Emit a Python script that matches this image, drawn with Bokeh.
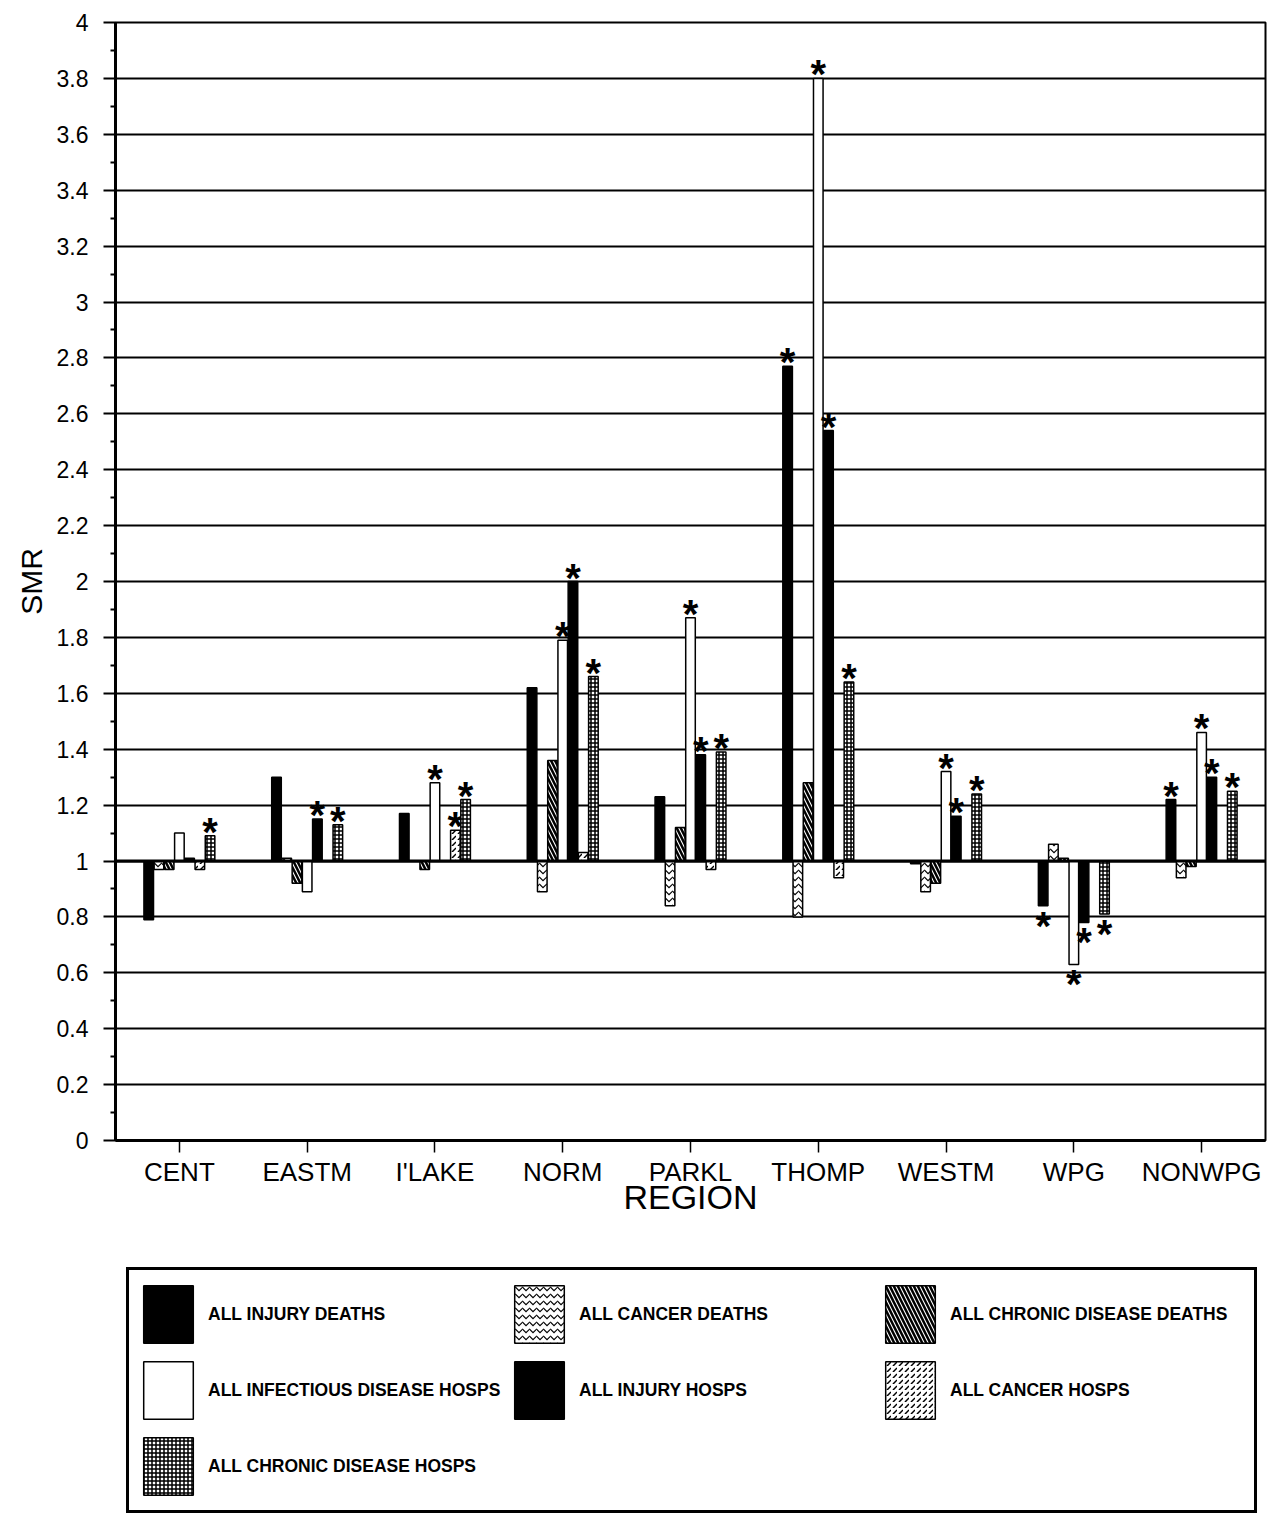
from bokeh.plotting import figure
from bokeh.models import (ColumnDataSource, FactorRange, FixedTicker, Legend, LegendItem,
                          Span, NumeralTickFormatter, Range1d)
from bokeh.layouts import column
from bokeh.transform import dodge
from bokeh.core.properties import value
from bokeh.embed import file_html
from bokeh.resources import INLINE

regions = ["CENT", "EASTM", "I'LAKE", "NORM", "PARKL", "THOMP", "WESTM", "WPG", "NONWPG"]

series_names = ["ALL INJURY DEATHS", "ALL CANCER DEATHS", "ALL CHRONIC DISEASE DEATHS",
                "ALL INFECTIOUS DISEASE HOSPS", "ALL INJURY HOSPS", "ALL CANCER HOSPS",
                "ALL CHRONIC DISEASE HOSPS"]

injury_deaths    = [0.79, 1.30, 1.17, 1.62, 1.23, 2.77, 0.99, 0.84, 1.22]
cancer_deaths    = [0.97, 1.01, 1.00, 0.89, 0.84, 0.80, 0.89, 1.06, 0.94]
chronic_deaths   = [0.97, 0.92, 0.97, 1.36, 1.12, 1.28, 0.92, 1.01, 0.98]
infectious_hosps = [1.10, 0.89, 1.28, 1.79, 1.87, 3.80, 1.32, 0.63, 1.46]
injury_hosps     = [1.01, 1.15, 1.00, 2.00, 1.38, 2.54, 1.16, 0.78, 1.30]
cancer_hosps     = [0.97, 1.00, 1.11, 1.03, 0.97, 0.94, 1.00, 1.00, 1.00]
chronic_hosps    = [1.09, 1.13, 1.22, 1.66, 1.39, 1.64, 1.24, 0.81, 1.25]

# significance flags (asterisks)
sig_injury_deaths    = [0, 0, 0, 0, 0, 1, 0, 1, 1]
sig_cancer_deaths    = [0, 0, 0, 0, 0, 0, 0, 0, 0]
sig_chronic_deaths   = [0, 0, 0, 0, 0, 0, 0, 0, 0]
sig_infectious_hosps = [0, 0, 1, 1, 1, 1, 1, 1, 1]
sig_injury_hosps     = [0, 1, 0, 1, 1, 1, 1, 1, 1]
sig_cancer_hosps     = [0, 0, 1, 0, 0, 0, 0, 0, 0]
sig_chronic_hosps    = [1, 1, 1, 1, 1, 1, 1, 1, 1]

y_ticks = [0, 0.2, 0.4, 0.6, 0.8, 1, 1.2, 1.4, 1.6, 1.8, 2, 2.2, 2.4, 2.6, 2.8,
           3, 3.2, 3.4, 3.6, 3.8, 4]
y_minor = [0.1, 0.3, 0.5, 0.7, 0.9, 1.1, 1.3, 1.5, 1.7, 1.9, 2.1, 2.3, 2.5, 2.7,
           2.9, 3.1, 3.3, 3.5, 3.7, 3.9]

all_values = [injury_deaths, cancer_deaths, chronic_deaths, infectious_hosps,
              injury_hosps, cancer_hosps, chronic_hosps]
all_sig = [sig_injury_deaths, sig_cancer_deaths, sig_chronic_deaths, sig_infectious_hosps,
           sig_injury_hosps, sig_cancer_hosps, sig_chronic_hosps]

styles = [
    dict(fill_color="black"),
    dict(fill_color="white", hatch_pattern="horizontal_wave", hatch_color="black",
         hatch_scale=7, hatch_weight=1.2),
    dict(fill_color="white", hatch_pattern="left_diagonal_line", hatch_color="black",
         hatch_scale=8, hatch_weight=2.5),
    dict(fill_color="white"),
    dict(fill_color="black"),
    dict(fill_color="white", hatch_pattern="right_diagonal_dash", hatch_color="black",
         hatch_scale=6, hatch_weight=1.5),
    dict(fill_color="white", hatch_pattern="cross", hatch_color="black",
         hatch_scale=4, hatch_weight=1.5),
]

FONT = "Liberation Sans"

p = figure(x_range=FactorRange(*regions, range_padding=0), y_range=(0, 4),
           width=1268, height=1240, output_backend="svg",
           toolbar_location=None, min_border_left=115, min_border_right=3,
           min_border_top=22, min_border_bottom=100)
p.x_range.range_padding = 0
p.background_fill_color = "white"
p.border_fill_color = "white"
p.outline_line_color = "black"
p.outline_line_width = 2

# legend figure: same series placed outside its visible y range; only the legend shows
q = figure(x_range=p.x_range, y_range=Range1d(10, 11), width=1268, height=273,
           output_backend="svg", toolbar_location=None,
           x_axis_location=None, y_axis_location=None,
           min_border=0, min_border_left=0, min_border_right=0,
           min_border_top=0, min_border_bottom=0)
q.grid.grid_line_color = None
q.outline_line_color = None
q.background_fill_color = "white"
q.border_fill_color = "white"

step = 0.08
width = 0.075
items = []
for i, (name, vals, sig, st) in enumerate(zip(series_names, all_values, all_sig, styles)):
    off = (i - 3) * step
    src = ColumnDataSource(dict(x=regions, top=vals))
    p.vbar(x=dodge("x", off, range=p.x_range), top="top", bottom=1, width=width,
           source=src, line_color="black", line_width=1.5, **st)
    r = q.vbar(x=dodge("x", off, range=p.x_range), top="top", bottom=1, width=width,
               source=src, line_color="black", line_width=1.5, **st)
    items.append(LegendItem(label=name, renderers=[r]))
    up_x = [reg for reg, v, s in zip(regions, vals, sig) if s and v >= 1]
    up_y = [v for v, s in zip(vals, sig) if s and v >= 1]
    dn_x = [reg for reg, v, s in zip(regions, vals, sig) if s and v < 1]
    dn_y = [v for v, s in zip(vals, sig) if s and v < 1]
    if up_x:
        p.text(x=dodge("x", off, range=p.x_range), y="y", text=value("*"),
               source=ColumnDataSource(dict(x=up_x, y=up_y)),
               text_align="center", text_baseline="alphabetic", y_offset=-4,
               text_font=value(FONT), text_font_size="40px", text_font_style="bold",
               text_color="black")
    if dn_x:
        p.text(x=dodge("x", off, range=p.x_range), y="y", text=value("*"),
               source=ColumnDataSource(dict(x=dn_x, y=dn_y)),
               text_align="center", text_baseline="top", y_offset=-2,
               text_font=value(FONT), text_font_size="40px", text_font_style="bold",
               text_color="black")

p.add_layout(Span(location=1, dimension="width", line_color="black", line_width=3))

# axes
p.yaxis.ticker = FixedTicker(ticks=y_ticks, minor_ticks=y_minor)
p.yaxis.formatter = NumeralTickFormatter(format="0.[0]")
p.yaxis.axis_label = "SMR"
p.yaxis.axis_label_text_font = FONT
p.yaxis.axis_label_text_font_size = "30px"
p.yaxis.axis_label_text_font_style = "normal"
p.yaxis.axis_label_text_color = "black"
p.yaxis.axis_label_standoff = 6
p.yaxis.major_label_text_font = FONT
p.yaxis.major_label_text_font_size = "23px"
p.yaxis.major_label_text_color = "black"
p.yaxis.major_label_standoff = 15
p.yaxis.axis_line_width = 3
p.yaxis.axis_line_color = "black"
p.yaxis.major_tick_out = 12
p.yaxis.major_tick_in = 0
p.yaxis.major_tick_line_width = 2
p.yaxis.minor_tick_out = 5
p.yaxis.minor_tick_in = 0
p.yaxis.minor_tick_line_width = 2

p.xaxis.axis_label = "REGION"
p.xaxis.axis_label_text_font = FONT
p.xaxis.axis_label_text_font_size = "34px"
p.xaxis.axis_label_text_font_style = "normal"
p.xaxis.axis_label_text_color = "black"
p.xaxis.axis_label_standoff = -12
p.xaxis.major_label_text_font = FONT
p.xaxis.major_label_text_font_size = "26px"
p.xaxis.major_label_text_color = "black"
p.xaxis.major_label_standoff = 4
p.xaxis.axis_line_width = 3
p.xaxis.axis_line_color = "black"
p.xaxis.major_tick_out = 12
p.xaxis.major_tick_in = 0
p.xaxis.major_tick_line_width = 1.5

p.xgrid.grid_line_color = None
p.ygrid.ticker = FixedTicker(ticks=y_ticks)
p.ygrid.grid_line_color = "black"
p.ygrid.grid_line_width = 2

legend = Legend(items=items, orientation="horizontal", ncols=3, location=(11, 0),
                glyph_width=62, glyph_height=72, label_standoff=9, spacing=4,
                label_width=296, padding=8, margin=0,
                label_text_font=FONT, label_text_font_size="17.5px",
                label_text_font_style="bold", label_text_color="black",
                border_line_color="black", border_line_width=3, border_line_alpha=1.0,
                background_fill_color="white", background_fill_alpha=1.0)
q.add_layout(legend)

open("out.html", "w").write(file_html(column(p, q, spacing=0), INLINE))
